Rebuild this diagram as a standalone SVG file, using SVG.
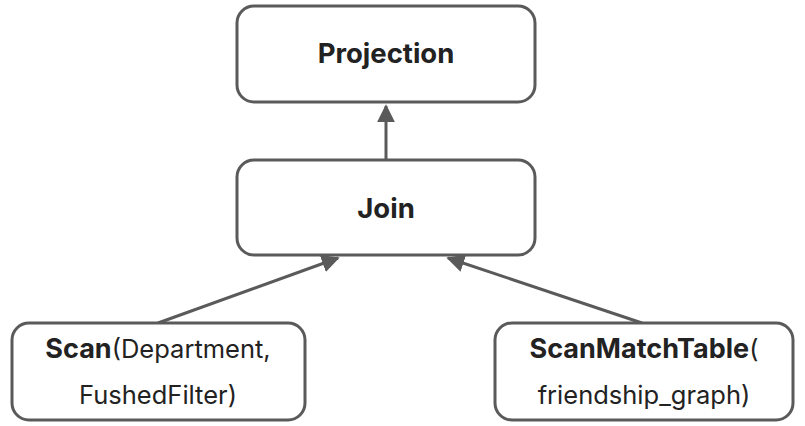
<svg xmlns="http://www.w3.org/2000/svg" width="805" height="426" viewBox="0 0 805 426">
<style>
.box{fill:#fff;stroke:#5a5a5a;stroke-width:3}
.t{font-family:Inter,"Noto Sans",sans-serif;font-size:25.5px;fill:#222;text-anchor:middle}
.h{font-size:27.5px}
.b{font-weight:bold}
.bb{font-weight:bold;font-size:27px}
.e{stroke:#5a5a5a;stroke-width:3;fill:none;marker-end:url(#ah)}
</style>
<defs>
<marker id="ah" viewBox="0 0 10 10" refX="9" refY="5" markerWidth="6" markerHeight="6" markerUnits="strokeWidth" orient="auto">
<path d="M0,0 L10,5 L0,10 z" fill="#5a5a5a"/>
</marker>
</defs>
<rect width="805" height="426" fill="#fff"/>
<g id="connectors">
<path class="e" d="M386,159 L386,106"/>
<path class="e" d="M158,323 L338,258"/>
<path class="e" d="M642,323 L448,258"/>
</g>
<g id="projection">
<rect class="box" x="237" y="6" width="298" height="96" rx="17"/>
<text class="t h b" x="386" y="63">Projection</text>
</g>
<g id="join">
<rect class="box" x="237" y="160" width="298" height="95" rx="17"/>
<text class="t h b" x="386" y="218">Join</text>
</g>
<g id="scan">
<rect class="box" x="12" y="323" width="293" height="97" rx="17"/>
<text class="t" x="158" y="358"><tspan class="bb">Scan</tspan>(Department,</text>
<text class="t" x="158" y="404">FushedFilter)</text>
</g>
<g id="scanmatch">
<rect class="box" x="495" y="323" width="298" height="97" rx="17"/>
<text class="t" x="644" y="358"><tspan class="bb">ScanMatchTable</tspan>(</text>
<text class="t" x="644" y="404">friendship_graph)</text>
</g>
</svg>
